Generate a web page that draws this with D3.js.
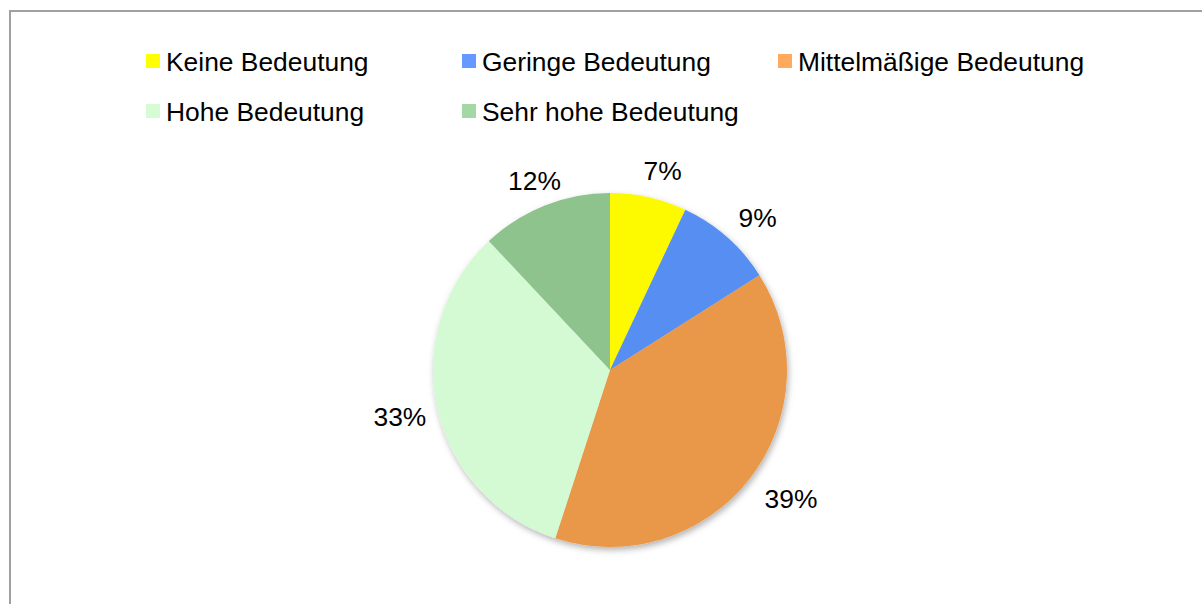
<!DOCTYPE html>
<html>
<head>
<meta charset="utf-8">
<script src="https://cdn.jsdelivr.net/npm/d3@7/dist/d3.min.js"></script>
<style>
  html, body { margin: 0; padding: 0; background: #fff; }
  svg { display: block; font-family: "Liberation Sans", Arial, sans-serif; }
</style>
</head>
<body>
<svg id="chart" width="1202" height="604"></svg>
<script>
// Daten
const categories = ['Keine Bedeutung', 'Geringe Bedeutung', 'Mittelmäßige Bedeutung', 'Hohe Bedeutung', 'Sehr hohe Bedeutung'];
const shares = [7, 9, 39, 33, 12];
const labels = ['7%', '9%', '39%', '33%', '12%'];
const sliceColors = ['#fdfa00', '#578ef2', '#e9984a', '#d4fad4', '#8ec38e'];
const legendColors = ['#ffff00', '#6699ff', '#ffaa5c', '#d6fcd6', '#a3d7a3'];

const svg = d3.select('#chart');
const width = +svg.attr('width'), height = +svg.attr('height');

// Rahmen
svg.append('rect')
  .attr('x', 10).attr('y', 11)
  .attr('width', width + 20).attr('height', height + 20)
  .attr('fill', '#fff')
  .attr('stroke', '#a0a0a0')
  .attr('stroke-width', 2);

// Schatten
const defs = svg.append('defs');
const f = defs.append('filter').attr('id', 'shadow')
  .attr('x', '-20%').attr('y', '-20%').attr('width', '140%').attr('height', '140%');
f.append('feDropShadow')
  .attr('dx', 1.5).attr('dy', 3)
  .attr('stdDeviation', 3)
  .attr('flood-color', '#000')
  .attr('flood-opacity', 0.3);

// Legende (3 Spalten)
const fontSize = 26.4;
const legend = svg.append('g');
const colX = d3.scaleOrdinal().domain([0, 1, 2]).range([146, 462, 778]);
const rowY = d3.scaleOrdinal().domain([0, 1]).range([61, 111]);
const items = legend.selectAll('g')
  .data(categories)
  .join('g')
  .attr('transform', (d, i) => `translate(${colX(i % 3)},${rowY(Math.floor(i / 3))})`);
items.append('rect')
  .attr('x', 0).attr('y', -7)
  .attr('width', 14).attr('height', 14)
  .attr('fill', (d, i) => legendColors[i]);
items.append('text')
  .attr('x', 20).attr('y', 0)
  .attr('dy', '0.36em')
  .attr('font-size', fontSize)
  .attr('fill', '#000')
  .text(d => d);

// Kreisdiagramm
const cx = 610, cy = 370, radius = 177;
const pie = d3.pie().sort(null).value(d => d);
const arcs = pie(shares);
const arc = d3.arc().innerRadius(0).outerRadius(radius);

const g = svg.append('g').attr('transform', `translate(${cx},${cy})`);
g.append('g')
  .attr('filter', 'url(#shadow)')
  .selectAll('path')
  .data(arcs)
  .join('path')
  .attr('d', arc)
  .attr('fill', (d, i) => sliceColors[i]);

// Beschriftungen außerhalb
const gap = 18;
const lab = g.append('g')
  .selectAll('text')
  .data(arcs)
  .join('text')
  .attr('font-size', fontSize)
  .attr('fill', '#000')
  .attr('text-anchor', 'middle')
  .attr('dy', '0.36em')
  .text((d, i) => labels[i]);

lab.each(function (d) {
  const bb = this.getBBox();
  const a = (d.startAngle + d.endAngle) / 2;
  const ux = Math.sin(a), uy = -Math.cos(a);
  const x = ux * (radius + gap) + ux * bb.width / 2 + 6;
  const y = uy * (radius + gap) + uy * 11 + 2;
  d3.select(this).attr('x', x).attr('y', y);
});
</script>
</body>
</html>
